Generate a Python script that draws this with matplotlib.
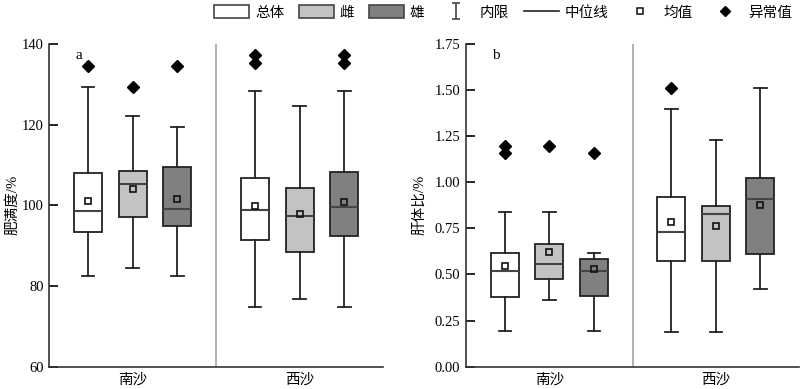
import matplotlib
matplotlib.use('Agg')
import matplotlib.pyplot as plt
from matplotlib.path import Path
from matplotlib.lines import Line2D
from matplotlib.patches import Patch

plt.rcParams['font.family'] = ['Liberation Serif', 'Noto Sans CJK SC']
plt.rcParams['font.size'] = 10.5

groups = ['南沙', '西沙']
series = ['总体', '雌', '雄']
colors = ['#ffffff', '#c3c3c3', '#808080']

# 肥满度 (a): order 南沙 总体/雌/雄, 西沙 总体/雌/雄
cf_whislo = [82.5, 84.5, 82.5, 74.9, 76.7, 74.9]
cf_q1 = [93.4, 97.1, 94.8, 91.4, 88.5, 92.3]
cf_med = [98.7, 105.3, 99.0, 98.8, 97.3, 99.6]
cf_mean = [101.0, 104.1, 101.6, 99.9, 97.9, 100.7]
cf_q3 = [108.1, 108.6, 109.5, 106.8, 104.3, 108.2]
cf_whishi = [129.2, 122.2, 119.5, 128.4, 124.6, 128.4]
cf_fliers = [[134.6], [129.2], [134.6], [137.3, 135.2], [], [137.3, 135.2]]

# 肝体比 (b)
hsi_whislo = [0.192, 0.362, 0.192, 0.186, 0.186, 0.420]
hsi_q1 = [0.380, 0.474, 0.385, 0.573, 0.573, 0.611]
hsi_med = [0.519, 0.557, 0.519, 0.729, 0.828, 0.908]
hsi_mean = [0.546, 0.624, 0.531, 0.785, 0.765, 0.879]
hsi_q3 = [0.615, 0.664, 0.582, 0.922, 0.873, 1.022]
hsi_whishi = [0.841, 0.841, 0.615, 1.399, 1.228, 1.510]
hsi_fliers = [[1.198, 1.157], [1.198], [1.157], [1.510], [], []]

positions = [0.233, 0.5, 0.767, 1.233, 1.5, 1.767]


def draw_panel(ax, lo, q1, med, mean, q3, hi, fliers, ylim, yticks, ytl, ylabel, tag):
    stats = []
    for i in range(6):
        stats.append(dict(whislo=lo[i], q1=q1[i], med=med[i], mean=mean[i],
                          q3=q3[i], whishi=hi[i], fliers=fliers[i]))
    bp = ax.bxp(stats, positions=positions, widths=0.168, capwidths=0.075,
                patch_artist=True, showmeans=True, manage_ticks=False,
                boxprops=dict(edgecolor='#222222', linewidth=1.3),
                whiskerprops=dict(color='#222222', linewidth=1.3),
                capprops=dict(color='#222222', linewidth=1.3),
                medianprops=dict(color='#444444', linewidth=1.5),
                meanprops=dict(marker='s', markerfacecolor='none',
                               markeredgecolor='#111111', markersize=5,
                               markeredgewidth=1.2),
                flierprops=dict(marker='D', markerfacecolor='black',
                                markeredgecolor='black', markersize=6))
    for i, b in enumerate(bp['boxes']):
        b.set_facecolor(colors[i % 3])
    ax.axvline(1.0, color='#aaaaaa', linewidth=1.3)
    ax.set_xlim(0, 2)
    ax.set_ylim(*ylim)
    ax.set_yticks(yticks)
    ax.set_yticklabels(ytl)
    ax.set_xticks([0.5, 1.5])
    ax.set_xticklabels(groups)
    ax.tick_params(axis='x', length=0, pad=5)
    ax.tick_params(axis='y', direction='in', length=6.5, width=1.2, pad=4)
    for s in ['top', 'right']:
        ax.spines[s].set_visible(False)
    for s in ['left', 'bottom']:
        ax.spines[s].set_linewidth(1.2)
        ax.spines[s].set_color('#333333')
    ax.set_ylabel(ylabel)
    ax.text(0.09, 0.963, tag, transform=ax.transAxes, fontsize=11,
            ha='center', va='center')


fig = plt.figure(figsize=(8, 3.89), dpi=100)
ax1 = fig.add_axes([0.0616, 0.0573, 0.4174, 0.83])
ax2 = fig.add_axes([0.5825, 0.0573, 0.4165, 0.83])

draw_panel(ax1, cf_whislo, cf_q1, cf_med, cf_mean, cf_q3, cf_whishi, cf_fliers,
           (60, 140), [60, 80, 100, 120, 140],
           ['60', '80', '100', '120', '140'], '肥满度/%', 'a')
draw_panel(ax2, hsi_whislo, hsi_q1, hsi_med, hsi_mean, hsi_q3, hsi_whishi, hsi_fliers,
           (0, 1.75), [0, 0.25, 0.5, 0.75, 1.0, 1.25, 1.5, 1.75],
           ['0.00', '0.25', '0.50', '0.75', '1.00', '1.25', '1.50', '1.75'],
           '肝体比/%', 'b')
ax1.yaxis.set_label_coords(-0.09, 0.5)
ax2.yaxis.set_label_coords(-0.118, 0.5)

whisker_path = Path([(-0.5, -1), (0.5, -1), (0, -1), (0, 1), (-0.5, 1), (0.5, 1)],
                    [Path.MOVETO, Path.LINETO, Path.MOVETO, Path.LINETO,
                     Path.MOVETO, Path.LINETO])
handles = [Patch(facecolor=colors[0], edgecolor='#444444', linewidth=1.2),
           Patch(facecolor=colors[1], edgecolor='#444444', linewidth=1.2),
           Patch(facecolor=colors[2], edgecolor='#444444', linewidth=1.2),
           Line2D([], [], linestyle='none', marker=whisker_path, markersize=11,
                  color='#444444', markeredgewidth=1.2),
           Line2D([], [], color='#222222', linewidth=1.2),
           Line2D([], [], linestyle='none', marker='s', markerfacecolor='none',
                  markeredgecolor='#111111', markersize=5, markeredgewidth=1.1),
           Line2D([], [], linestyle='none', marker='D', color='black', markersize=5.5)]
labels = series + ['内限', '中位线', '均值', '异常值']
fig.legend(handles, labels, loc='center', bbox_to_anchor=(0.629, 0.968), ncol=7,
           frameon=False, handlelength=2.4, handleheight=1.0, handletextpad=0.4,
           columnspacing=1.0, fontsize=10.5)

fig.savefig('out.png', dpi=100)
